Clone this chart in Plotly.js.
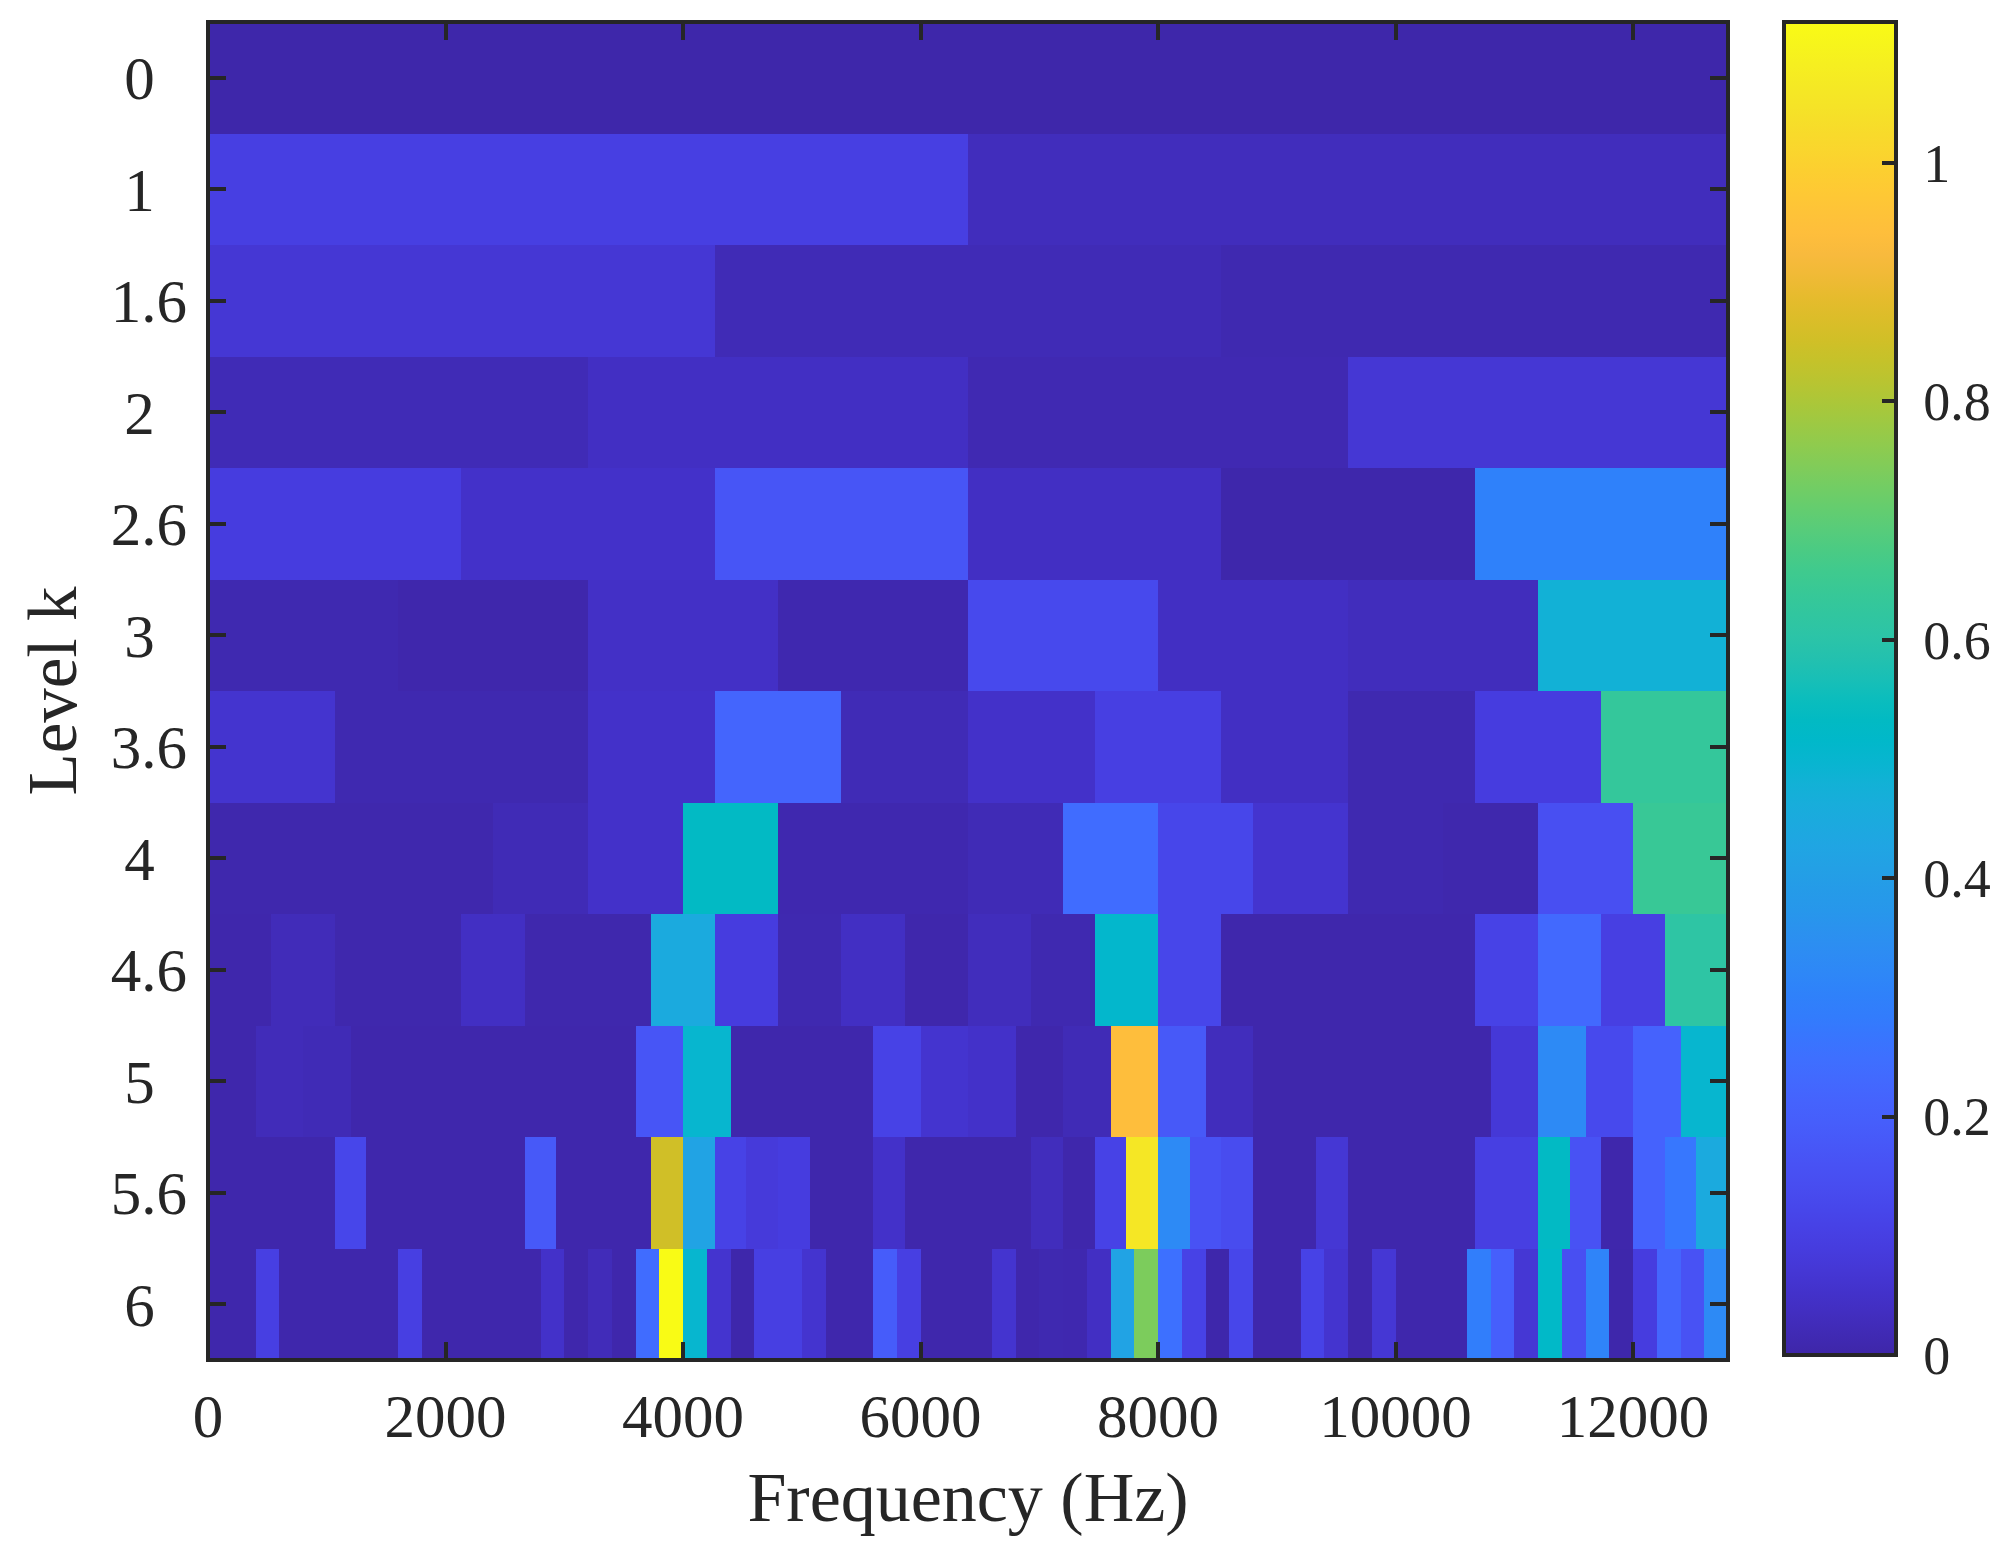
<!DOCTYPE html>
<html><head><meta charset="utf-8">
<script src="https://cdn.plot.ly/plotly-3.0.1.min.js"></script>
<style>html,body{margin:0;padding:0;background:#fff}</style></head>
<body><div id="chart" style="width:2016px;height:1559px"></div>
<script>
const levelLabels = ["0","1","1.6","2","2.6","3","3.6","4","4.6","5","5.6","6"];
const xTicks = [0,2000,4000,6000,8000,10000,12000];
const cbTicks = [0,0.2,0.4,0.6,0.8,1];
const level0 = [.003];
const level1 = [.10,.03];
const level1p6 = [.07,.02,.012];
const level2 = [.02,.04,.015,.07];
const level2p6 = [.09,.05,.17,.04,.004,.30];
const level3 = [.012,.006,.045,.01,.13,.04,.03,.48];
const level3p6 = [.06,.012,.012,.05,.22,.02,.05,.10,.04,.012,.09,.63];
const level4 = [.008,.008,.008,.02,.05,.53,.01,.01,.02,.24,.12,.06,.012,.008,.15,.64];
const level4p6 = [.006,.025,.008,.008,.04,.008,.008,.45,.09,.012,.04,.006,.03,.012,.51,.12,.006,.006,.006,.006,.11,.23,.10,.61];
const level5 = [.006,.025,.02,.006,.006,.006,.006,.006,.006,.17,.50,.006,.006,.006,.11,.06,.05,.006,.02,.94,.18,.03,.006,.006,.006,.006,.006,.075,.33,.13,.21,.50];
const level5p6 = [.006,.006,.006,.006,.12,.006,.006,.006,.006,.006,.18,.006,.006,.006,.85,.42,.11,.08,.09,.006,.006,.05,.006,.006,.006,.006,.03,.006,.11,1.06,.33,.16,.14,.006,.006,.07,.006,.006,.006,.006,.10,.10,.53,.16,.006,.21,.27,.45];
const level6 = [.006,.006,.10,.006,.006,.006,.006,.006,.10,.006,.006,.006,.006,.006,.05,.006,.025,.006,.24,1.118,.50,.06,.004,.10,.10,.06,.006,.006,.19,.10,.006,.006,.006,.06,.006,.012,.01,.04,.42,.74,.25,.11,.004,.12,.006,.006,.11,.06,.006,.07,.006,.006,.006,.29,.20,.07,.52,.15,.31,.004,.09,.22,.16,.33];
const rows = [level0,level1,level1p6,level2,level2p6,level3,level3p6,level4,level4p6,level5,level5p6,level6];
const parula = [[.2422,.1504,.6603],[.2504,.1650,.7076],[.2578,.1818,.7511],[.2647,.1978,.7952],[.2706,.2147,.8364],[.2751,.2342,.8710],[.2783,.2559,.8991],[.2803,.2782,.9221],[.2813,.3006,.9414],[.2810,.3228,.9579],[.2795,.3447,.9717],[.2760,.3667,.9829],[.2699,.3892,.9906],[.2602,.4123,.9952],[.2440,.4358,.9988],[.2206,.4603,.9973],[.1963,.4847,.9892],[.1834,.5074,.9798],[.1786,.5289,.9682],[.1764,.5499,.9520],[.1687,.5703,.9359],[.1540,.5902,.9218],[.1460,.6091,.9079],[.1380,.6276,.8973],[.1248,.6459,.8883],[.1113,.6635,.8763],[.0952,.6798,.8598],[.0689,.6948,.8394],[.0297,.7082,.8163],[.0036,.7203,.7917],[.0067,.7312,.7660],[.0433,.7411,.7394],[.0964,.7500,.7120],[.1408,.7584,.6842],[.1717,.7670,.6554],[.1938,.7758,.6251],[.2161,.7843,.5923],[.2470,.7918,.5567],[.2906,.7973,.5188],[.3406,.8008,.4789],[.3909,.8029,.4354],[.4456,.8024,.3909],[.5044,.7993,.3480],[.5616,.7942,.3045],[.6174,.7876,.2612],[.6720,.7793,.2227],[.7242,.7698,.1910],[.7738,.7598,.1646],[.8203,.7498,.1535],[.8634,.7406,.1596],[.9035,.7330,.1774],[.9393,.7288,.2100],[.9728,.7298,.2394],[.9956,.7434,.2371],[.9970,.7659,.2199],[.9952,.7893,.2028],[.9892,.8136,.1885],[.9786,.8386,.1766],[.9676,.8639,.1643],[.9610,.8890,.1537],[.9597,.9135,.1423],[.9628,.9373,.1265],[.9691,.9606,.1064],[.9769,.9839,.0805]];
const colorscale = parula.map((c,i)=>[i/(parula.length-1),`rgb(${c.map(v=>Math.round(v*255)).join(",")})`]);
const maxFreq = 12800, zMax = 1.118, gridCols = 192;
const xEdges = Array.from({length:gridCols+1},(_,i)=>i*maxFreq/gridCols);
const yEdges = Array.from({length:rows.length+1},(_,i)=>i-0.5);
const z = rows.map(r=>{const out=[];const k=gridCols/r.length;r.forEach(v=>{for(let i=0;i<k;i++)out.push(v);});return out;});
const ink = "#262626", serif = '"Liberation Serif","Times New Roman",serif';
const pad = s => s.length===1 ? s+'<span style="font-size:43px">\u00a0\u00a0\u00a0</span>' : s;
const L=207.5, R=1728, T=22, B=1360;
const trace = {type:"heatmap",x:xEdges,y:yEdges,z,zmin:0,zmax:zMax,colorscale,zsmooth:false,hoverinfo:"skip",
  colorbar:{xref:"paper",yref:"paper",x:(1784-L)/(R-L),y:(B-22)/(B-T),xanchor:"left",yanchor:"top",xpad:0,ypad:0,
    thicknessmode:"pixels",thickness:112,lenmode:"pixels",len:1333,outlinecolor:ink,outlinewidth:4,
    tickmode:"array",tickvals:cbTicks,ticktext:cbTicks.map(v=>'<span style="font-size:56px">\u00a0</span>'+v),ticks:"inside",ticklen:16,tickwidth:4,tickcolor:ink,
    tickfont:{family:serif,size:54,color:ink},ticklabelposition:"outside"}};
const layout = {width:2016,height:1559,paper_bgcolor:"#fff",plot_bgcolor:"#fff",showlegend:false,
  margin:{l:L,r:2016-R,t:T,b:1559-B,autoexpand:false},
  font:{family:serif,color:ink},
  shapes:[{type:"rect",xref:"paper",yref:"paper",x0:0,x1:1,y0:0,y1:1,line:{color:ink,width:4},layer:"above"}],
  xaxis:{range:[0,maxFreq],tickmode:"array",tickvals:xTicks,ticktext:xTicks.map(String),ticks:"inside",ticklen:18,tickwidth:4,tickcolor:ink,
    showline:false,mirror:"ticks",showgrid:false,zeroline:false,tickfont:{family:serif,size:61,color:ink},ticklabelstandoff:15,
    title:{text:"Frequency (Hz)",font:{family:serif,size:70,color:ink},standoff:22},automargin:false},
  yaxis:{range:[rows.length-0.5,-0.5],tickmode:"array",tickvals:levelLabels.map((_,i)=>i),ticktext:levelLabels.map(pad),ticks:"inside",ticklen:18,tickwidth:4,tickcolor:ink,
    showline:false,mirror:"ticks",showgrid:false,zeroline:false,tickfont:{family:serif,size:61,color:ink},ticklabelstandoff:20,
    title:{text:"Level k",font:{family:serif,size:69,color:ink},standoff:11},automargin:false}
};
Plotly.newPlot("chart",[trace],layout,{staticPlot:true,displayModeBar:false});
</script></body></html>
